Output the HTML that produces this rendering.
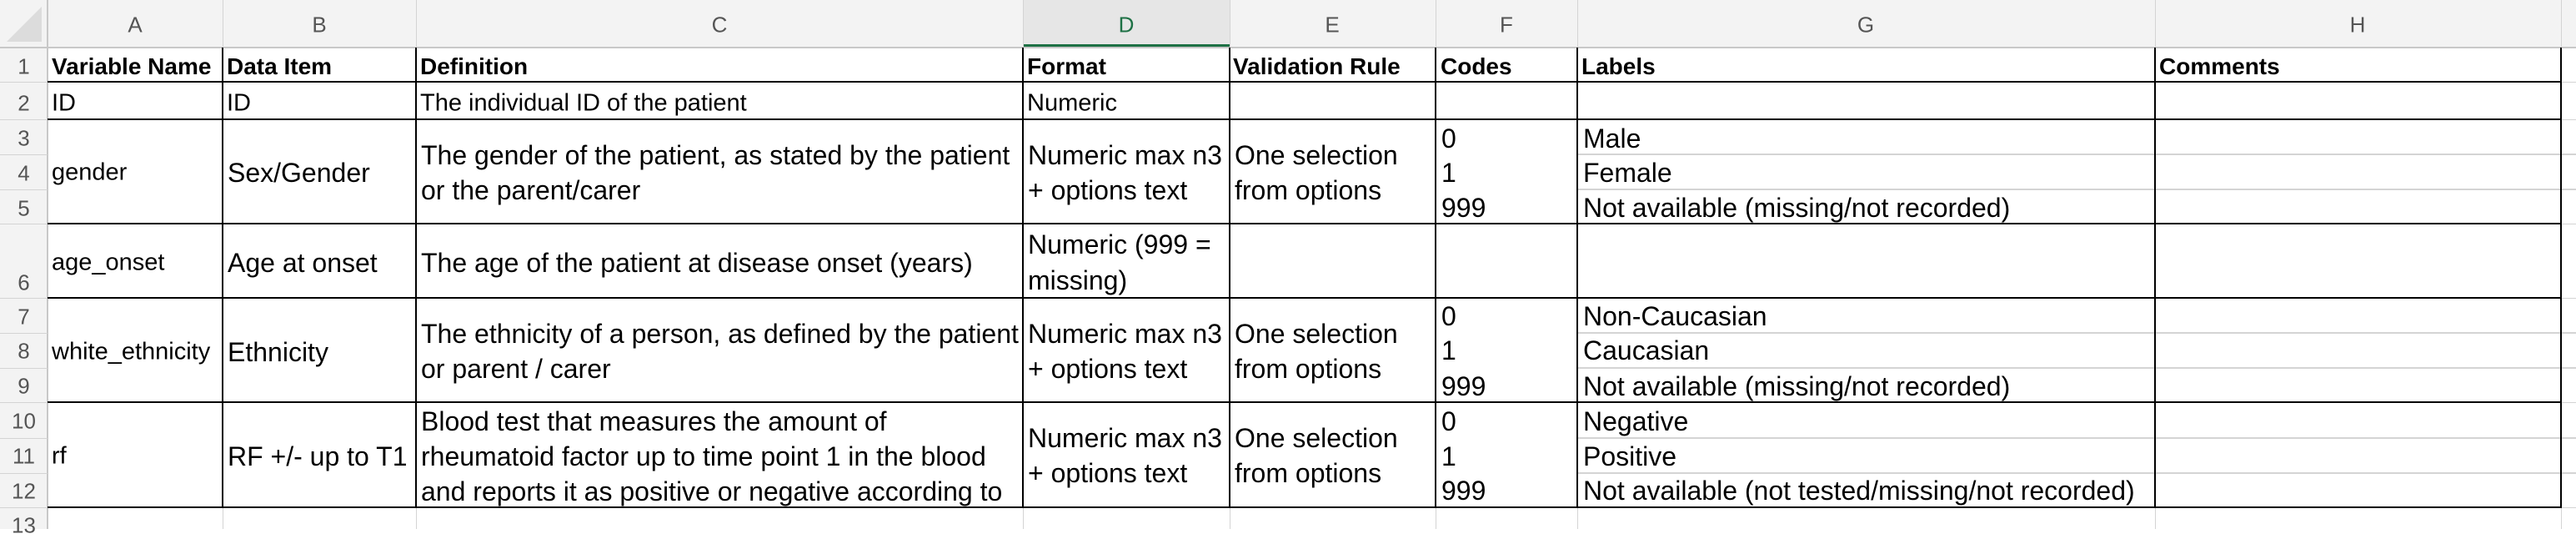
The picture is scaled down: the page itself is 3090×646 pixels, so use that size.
<!DOCTYPE html>
<html><head><meta charset="utf-8"><style>
body{margin:0;width:3090px;height:634px;background:#fff;position:relative;overflow:hidden;font-family:"Liberation Sans",Arial,sans-serif;}
.t{position:absolute;white-space:nowrap;transform:translateY(-50%);line-height:1.2;color:#000;}
.a{font-size:32px;}
.c{font-size:29px;}
.b{font-size:28px;font-weight:bold;}
.h{font-size:26px;color:#555;text-align:center;}
.r{font-size:26px;color:#555;width:57px;text-align:center;left:0;}
.l{position:absolute;background:#000;}
.g{position:absolute;background:#d4d4d4;}
</style></head><body>
<div style="position:absolute;left:0;top:0;width:3090px;height:57px;background:#f3f3f3"></div>
<div style="position:absolute;left:0;top:0;width:57px;height:634px;background:#f3f3f3"></div>
<div style="position:absolute;left:1227px;top:0;width:248px;height:57px;background:#e6e6e6"></div>
<div style="position:absolute;left:1227px;top:53px;width:248px;height:4px;background:#1e7145"></div>
<svg style="position:absolute;left:0;top:0" width="57" height="57"><polygon points="50,8 50,50 8,50" fill="#dcdcdc"/></svg>
<div class="g" style="left:0;top:56px;width:3090px;height:2px;background:#c8c8c8"></div>
<div class="g" style="left:56px;top:0;width:2px;height:634px;background:#c8c8c8"></div>
<div class="g" style="left:267px;top:0;width:1px;height:57px"></div>
<div class="g" style="left:499px;top:0;width:1px;height:57px"></div>
<div class="g" style="left:1227px;top:0;width:1px;height:57px"></div>
<div class="g" style="left:1475px;top:0;width:1px;height:57px"></div>
<div class="g" style="left:1722px;top:0;width:1px;height:57px"></div>
<div class="g" style="left:1892px;top:0;width:1px;height:57px"></div>
<div class="g" style="left:2585px;top:0;width:1px;height:57px"></div>
<div class="g" style="left:3072px;top:0;width:1px;height:634px"></div>
<div class="g" style="left:0;top:98px;width:57px;height:1px"></div>
<div class="g" style="left:0;top:143px;width:57px;height:1px"></div>
<div class="g" style="left:0;top:185px;width:57px;height:1px"></div>
<div class="g" style="left:0;top:227px;width:57px;height:1px"></div>
<div class="g" style="left:0;top:268px;width:57px;height:1px"></div>
<div class="g" style="left:0;top:357px;width:57px;height:1px"></div>
<div class="g" style="left:0;top:399px;width:57px;height:1px"></div>
<div class="g" style="left:0;top:441px;width:57px;height:1px"></div>
<div class="g" style="left:0;top:482px;width:57px;height:1px"></div>
<div class="g" style="left:0;top:525px;width:57px;height:1px"></div>
<div class="g" style="left:0;top:567px;width:57px;height:1px"></div>
<div class="g" style="left:0;top:608px;width:57px;height:1px"></div>
<div class="g" style="left:267px;top:608px;width:1px;height:26px"></div>
<div class="g" style="left:499px;top:608px;width:1px;height:26px"></div>
<div class="g" style="left:1227px;top:608px;width:1px;height:26px"></div>
<div class="g" style="left:1475px;top:608px;width:1px;height:26px"></div>
<div class="g" style="left:1722px;top:608px;width:1px;height:26px"></div>
<div class="g" style="left:1892px;top:608px;width:1px;height:26px"></div>
<div class="g" style="left:2585px;top:608px;width:1px;height:26px"></div>
<div class="g" style="left:1893px;top:184px;width:1197px;height:2px"></div>
<div class="g" style="left:1893px;top:226px;width:1197px;height:2px"></div>
<div class="g" style="left:1893px;top:398px;width:1197px;height:2px"></div>
<div class="g" style="left:1893px;top:440px;width:1197px;height:2px"></div>
<div class="g" style="left:1893px;top:524px;width:1197px;height:2px"></div>
<div class="g" style="left:1893px;top:566px;width:1197px;height:2px"></div>
<div class="g" style="left:3073px;top:98px;width:17px;height:1px"></div>
<div class="g" style="left:3073px;top:143px;width:17px;height:1px"></div>
<div class="g" style="left:3073px;top:268px;width:17px;height:1px"></div>
<div class="g" style="left:3073px;top:357px;width:17px;height:1px"></div>
<div class="g" style="left:3073px;top:482px;width:17px;height:1px"></div>
<div class="g" style="left:3073px;top:608px;width:17px;height:1px"></div>
<div class="l" style="left:57px;top:97px;width:3016px;height:2px"></div>
<div class="l" style="left:57px;top:142px;width:3016px;height:2px"></div>
<div class="l" style="left:57px;top:267px;width:3016px;height:2px"></div>
<div class="l" style="left:57px;top:356px;width:3016px;height:2px"></div>
<div class="l" style="left:57px;top:481px;width:3016px;height:2px"></div>
<div class="l" style="left:57px;top:607px;width:3016px;height:2px"></div>
<div class="l" style="left:266px;top:57px;width:2px;height:552px"></div>
<div class="l" style="left:498px;top:57px;width:2px;height:552px"></div>
<div class="l" style="left:1226px;top:57px;width:2px;height:552px"></div>
<div class="l" style="left:1474px;top:57px;width:2px;height:552px"></div>
<div class="l" style="left:1721px;top:57px;width:2px;height:552px"></div>
<div class="l" style="left:1891px;top:57px;width:2px;height:552px"></div>
<div class="l" style="left:2584px;top:57px;width:2px;height:552px"></div>
<div class="l" style="left:3071px;top:57px;width:2px;height:552px"></div>
<div class="t h" style="left:102px;width:120px;top:30px">A</div>
<div class="t h" style="left:323px;width:120px;top:30px">B</div>
<div class="t h" style="left:803px;width:120px;top:30px">C</div>
<div class="t h" style="left:1291px;width:120px;top:30px;color:#1e7145">D</div>
<div class="t h" style="left:1538px;width:120px;top:30px">E</div>
<div class="t h" style="left:1747px;width:120px;top:30px">F</div>
<div class="t h" style="left:2178px;width:120px;top:30px">G</div>
<div class="t h" style="left:2768px;width:120px;top:30px">H</div>
<div class="t r" style="top:80px">1</div>
<div class="t r" style="top:124px">2</div>
<div class="t r" style="top:166px">3</div>
<div class="t r" style="top:208px">4</div>
<div class="t r" style="top:250px">5</div>
<div class="t r" style="top:339px">6</div>
<div class="t r" style="top:380px">7</div>
<div class="t r" style="top:421px">8</div>
<div class="t r" style="top:463px">9</div>
<div class="t r" style="top:505px">10</div>
<div class="t r" style="top:547px">11</div>
<div class="t r" style="top:589px">12</div>
<div class="t r" style="top:630px">13</div>
<div class="t b" style="left:62px;top:80px">Variable Name</div>
<div class="t b" style="left:272px;top:80px">Data Item</div>
<div class="t b" style="left:504px;top:80px">Definition</div>
<div class="t b" style="left:1232px;top:80px">Format</div>
<div class="t b" style="left:1479px;top:80px">Validation Rule</div>
<div class="t b" style="left:1728px;top:80px">Codes</div>
<div class="t b" style="left:1897px;top:80px">Labels</div>
<div class="t b" style="left:2590px;top:80px">Comments</div>
<div class="t c" style="left:62px;top:124px">ID</div>
<div class="t c" style="left:272px;top:124px">ID</div>
<div class="t c" style="left:504px;top:124px">The individual ID of the patient</div>
<div class="t c" style="left:1232px;top:124px">Numeric</div>
<div class="t c" style="left:62px;top:207px">gender</div>
<div class="t a" style="left:273px;top:207px">Sex/Gender</div>
<div class="t a" style="left:505px;top:186px">The gender of the patient, as stated by the patient</div>
<div class="t a" style="left:505px;top:228px">or the parent/carer</div>
<div class="t a" style="left:1233px;top:186px">Numeric max n3</div>
<div class="t a" style="left:1233px;top:228px">+ options text</div>
<div class="t a" style="left:1481px;top:186px">One selection</div>
<div class="t a" style="left:1481px;top:228px">from options</div>
<div class="t a" style="left:1729px;top:166px">0</div>
<div class="t a" style="left:1729px;top:207px">1</div>
<div class="t a" style="left:1729px;top:249px">999</div>
<div class="t a" style="left:1899px;top:166px">Male</div>
<div class="t a" style="left:1899px;top:207px">Female</div>
<div class="t a" style="left:1899px;top:249px">Not available (missing/not recorded)</div>
<div class="t c" style="left:62px;top:315px">age_onset</div>
<div class="t a" style="left:273px;top:315px">Age at onset</div>
<div class="t a" style="left:505px;top:315px">The age of the patient at disease onset (years)</div>
<div class="t a" style="left:1233px;top:293px">Numeric (999 =</div>
<div class="t a" style="left:1233px;top:336px">missing)</div>
<div class="t c" style="left:62px;top:422px">white_ethnicity</div>
<div class="t a" style="left:273px;top:422px">Ethnicity</div>
<div class="t a" style="left:505px;top:400px">The ethnicity of a person, as defined by the patient</div>
<div class="t a" style="left:505px;top:442px">or parent / carer</div>
<div class="t a" style="left:1233px;top:400px">Numeric max n3</div>
<div class="t a" style="left:1233px;top:442px">+ options text</div>
<div class="t a" style="left:1481px;top:400px">One selection</div>
<div class="t a" style="left:1481px;top:442px">from options</div>
<div class="t a" style="left:1729px;top:379px">0</div>
<div class="t a" style="left:1729px;top:420px">1</div>
<div class="t a" style="left:1729px;top:463px">999</div>
<div class="t a" style="left:1899px;top:379px">Non-Caucasian</div>
<div class="t a" style="left:1899px;top:420px">Caucasian</div>
<div class="t a" style="left:1899px;top:463px">Not available (missing/not recorded)</div>
<div class="t c" style="left:62px;top:547px">rf</div>
<div class="t a" style="left:273px;top:547px">RF +/- up to T1</div>
<div class="t a" style="left:505px;top:505px">Blood test that measures the amount of</div>
<div class="t a" style="left:505px;top:547px">rheumatoid factor up to time point 1 in the blood</div>
<div class="t a" style="left:505px;top:589px">and reports it as positive or negative according to</div>
<div class="t a" style="left:1233px;top:525px">Numeric max n3</div>
<div class="t a" style="left:1233px;top:567px">+ options text</div>
<div class="t a" style="left:1481px;top:525px">One selection</div>
<div class="t a" style="left:1481px;top:567px">from options</div>
<div class="t a" style="left:1729px;top:505px">0</div>
<div class="t a" style="left:1729px;top:547px">1</div>
<div class="t a" style="left:1729px;top:588px">999</div>
<div class="t a" style="left:1899px;top:505px">Negative</div>
<div class="t a" style="left:1899px;top:547px">Positive</div>
<div class="t a" style="left:1899px;top:588px">Not available (not tested/missing/not recorded)</div>
</body></html>
